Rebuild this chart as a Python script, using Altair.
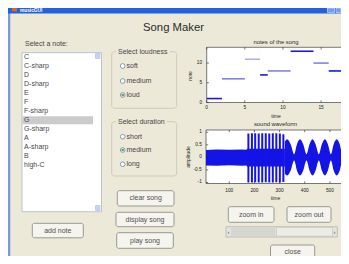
import altair as alt
import pandas as pd

# ---------------- chart values ----------------
note_names = ["C", "C-sharp", "D", "D-sharp", "E", "F", "F-sharp", "G",
              "G-sharp", "A", "A-sharp", "B", "high-C"]
selected_note = "G"
loudness_options = ["soft", "medium", "loud"]
selected_loudness = "loud"
duration_options = ["short", "medium", "long"]
selected_duration = "medium"
button_labels = ["add note", "clear song", "display song", "play song",
                 "zoom in", "zoom out", "close"]
window_title = "musicGUI"
app_title = "Song Maker"

# notes of the song
song_notes = [1, 6, 11, 7, 8, 13, 10, 8]
song_durations = [2, 3, 2, 1, 3, 3, 2, 2]
song_loudness = ["loud", "medium", "soft", "loud", "medium", "loud", "medium", "loud"]
notes_x_ticks = [0, 5, 10, 15]
notes_y_ticks = [0, 5, 10]
notes_x_lim = [0, 18.2]
notes_y_lim = [0, 14]

# sound waveform (envelopes)
wave_x_ticks = [100, 200, 300, 400, 500]
wave_y_ticks = [-1, -0.5, 0, 0.5, 1]
wave_x_lim = [7.5, 560]
wave_y_lim = [-1.04, 1.09]
band_time = [7.5, 50, 100, 150, 169, 169.5, 240, 321]
band_upper = [0.29, 0.31, 0.30, 0.31, 0.30, 0.34, 0.34, 0.34]
band_lower = [-0.32, -0.33, -0.31, -0.33, -0.32, -0.36, -0.36, -0.36]
burst_time = [176, 190, 203, 217, 231, 245, 259, 273, 287, 301, 315]
burst_upper = [0.95, 0.96, 0.96, 0.95, 0.96, 0.96, 0.95, 0.96, 0.96, 0.95, 0.92]
burst_lower = [-1.0, -1.0, -0.99, -1.0, -1.0, -0.99, -1.0, -1.0, -0.99, -1.0, -0.98]
beat_time = [321, 330, 344, 358, 369, 381, 394, 407, 419, 431, 443, 456,
             468, 480, 492, 504, 515, 527, 539, 550, 560]
beat_upper = [0.62, 0.72, 0.52, 0.12, 0.52, 0.72, 0.52, 0.12, 0.52, 0.72, 0.52, 0.12,
              0.52, 0.72, 0.52, 0.12, 0.52, 0.72, 0.52, 0.12, 0.45]
beat_lower = [-0.64, -0.72, -0.52, -0.12, -0.52, -0.72, -0.52, -0.12, -0.52, -0.72, -0.52, -0.12,
              -0.52, -0.72, -0.52, -0.12, -0.52, -0.72, -0.52, -0.12, -0.45]

# ---------------- layout (window pixel coordinates) ----------------
VIEW_W, VIEW_H = 333, 248
PX0, PY0 = 8, 8
FONT = "Liberation Sans"
BEIGE = "#ECE9D8"
TXT = "#474747"
AXC = "#222222"
BLUE = "#1414e6"

GX = alt.Scale(domain=[PX0, PX0 + VIEW_W], range=[0, VIEW_W], nice=False, zero=False)
GY = alt.Scale(domain=[PY0, PY0 + VIEW_H], range=[0, VIEW_H], nice=False, zero=False)


def rects(rows, **mk):
    df = pd.DataFrame(rows, columns=["x", "x2", "y", "y2"])
    return alt.Chart(df).mark_rect(**mk).encode(
        x=alt.X("x:Q", scale=GX, axis=None), x2="x2:Q",
        y=alt.Y("y:Q", scale=GY, axis=None), y2="y2:Q")


def texts(rows, **mk):
    df = pd.DataFrame(rows, columns=["x", "y", "label"])
    return alt.Chart(df).mark_text(baseline="middle", font=FONT, **mk).encode(
        x=alt.X("x:Q", scale=GX, axis=None),
        y=alt.Y("y:Q", scale=GY, axis=None), text="label:N")


def dots(rows, **mk):
    df = pd.DataFrame(rows, columns=["x", "y"])
    return alt.Chart(df).mark_circle(opacity=1, **mk).encode(
        x=alt.X("x:Q", scale=GX, axis=None), y=alt.Y("y:Q", scale=GY, axis=None))


button_boxes = [(32.3, 83.3, 223.3, 237.8), (117.3, 174, 190.7, 206), (116, 174, 212.3, 226.7),
                (116.7, 173.3, 232.7, 248.3), (228.3, 274, 206.7, 222.3), (287, 331, 206.7, 222.3),
                (270.5, 314.7, 245, 258.5)]
list_y0, list_dy = 57.3, 9.0
radio_x = 122.7
loud_y = [66, 81, 95]
dur_y = [136.7, 150, 164.3]
NB = dict(l=206.7, r=345.5, t=47.3, b=102.5)
WB = dict(l=206.0, r=345.0, t=130.0, b=183.5)

gui_back = alt.layer(
    rects([(8, 10.3, 8, 256)], fill="#7a9ade"),
    rects([(8, 341, 8, 13.6)], fill="#2461dc"),
    rects([(12, 17, 8, 11.5)], fill="#d8652e"),
    rects([(327.5, 334.5, 8, 12.6), (336, 341, 8, 12.6)], fill="#6f9ef0",
          stroke="#e4ecfb", strokeWidth=0.6),
    rects([(22, 101.5, 52.7, 211.7)], fill="white", stroke="#a9b8c8", strokeWidth=0.8),
    rects([(22.5, 93, list_y0 + note_names.index(selected_note) * list_dy - 4,
            list_y0 + note_names.index(selected_note) * list_dy + 4)], fill="#cbcbcb"),
    rects([(95.5, 100, 53.5, 58.5), (95.5, 100, 205.5, 210.5)], fill="#c6d3f5",
          stroke="#a0b4e6", strokeWidth=0.5),
    rects([(111.7, 176.7, 51.7, 108.3), (111.7, 176.7, 121.7, 176)], fillOpacity=0,
          stroke="#c9c7b8", strokeWidth=0.9, cornerRadius=3),
    rects([(116, 170, 48, 55.5), (116, 167, 118, 125.5)], fill=BEIGE),
    rects(button_boxes, fill="#f5f4ef", stroke="#8f8f8a", strokeWidth=0.9, cornerRadius=2),
    rects([(226, 337.3, 226.7, 237)], fill="#e4e3dc", stroke="#b0b0a8", strokeWidth=0.7),
    rects([(231, 275.5, 227.5, 236.2)], fill="#d6d6d0"),
    rects([(276.5, 332.5, 227.5, 236.2)], fill="#ecebe5", stroke="#c4c4bc", strokeWidth=0.6),
    dots([(radio_x, y) for y in loud_y + dur_y], size=22, fill="white",
         stroke="#6b87a3", strokeWidth=0.8),
    dots([(radio_x, loud_y[loudness_options.index(selected_loudness)]),
          (radio_x, dur_y[duration_options.index(selected_duration)])],
         size=7, color="#5aa05a"),
)


def tick_marks(xt, yt, xlim, ylim, box, SX, SY):
    xl = 2.2 * (xlim[1] - xlim[0]) / (box["r"] - box["l"])
    yl = 2.2 * (ylim[1] - ylim[0]) / (box["b"] - box["t"])
    rows = []
    for t in xt:
        rows.append((t, t, ylim[0], ylim[0] + yl))
        rows.append((t, t, ylim[1], ylim[1] - yl))
    for v in yt:
        rows.append((xlim[0], xlim[0] + xl, v, v))
        rows.append((xlim[1], xlim[1] - xl, v, v))
    return alt.Chart(pd.DataFrame(rows, columns=["x", "x2", "y", "y2"])).mark_rule(
        color=AXC, strokeWidth=0.6).encode(
        x=alt.X("x:Q", scale=SX, axis=None), x2="x2:Q",
        y=alt.Y("y:Q", scale=SY, axis=None), y2="y2:Q")


def frame(xlim, ylim, SX, SY):
    return alt.Chart(pd.DataFrame({"x": [xlim[0]], "x2": [xlim[1]],
                                   "y": [ylim[0]], "y2": [ylim[1]]})).mark_rect(
        fill="white", stroke=AXC, strokeWidth=0.6).encode(
        x=alt.X("x:Q", scale=SX, axis=None), x2="x2:Q",
        y=alt.Y("y:Q", scale=SY, axis=None), y2="y2:Q")


def tick_labels(xt, yt, box, SX, SY, xgap, ygap):
    xl = alt.Chart(pd.DataFrame({"v": xt, "lab": [str(v) for v in xt]})).mark_text(
        font=FONT, fontSize=4.8, color=AXC, align="center", baseline="middle").encode(
        x=alt.X("v:Q", scale=SX, axis=None), y=alt.value(box["b"] - PY0 + xgap), text="lab:N")
    yl = alt.Chart(pd.DataFrame({"v": yt, "lab": [str(v) for v in yt]})).mark_text(
        font=FONT, fontSize=4.8, color=AXC, align="right", baseline="middle").encode(
        y=alt.Y("v:Q", scale=SY, axis=None), x=alt.value(box["l"] - PX0 - ygap), text="lab:N")
    return xl, yl


# ---------------- notes of the song ----------------
NX = alt.Scale(domain=notes_x_lim, range=[NB["l"] - PX0, NB["r"] - PX0], nice=False, zero=False)
NY = alt.Scale(domain=notes_y_lim, range=[NB["b"] - PY0, NB["t"] - PY0], nice=False, zero=False)

starts, ends, acc = [], [], 0
for d in song_durations:
    starts.append(acc)
    acc += d
    ends.append(acc)
seg_df = pd.DataFrame({"start": starts, "end": ends, "note": song_notes, "loudness": song_loudness})
segs = alt.Chart(seg_df).mark_rule().encode(
    x=alt.X("start:Q", scale=NX, axis=None), x2="end:Q",
    y=alt.Y("note:Q", scale=NY, axis=None),
    strokeWidth=alt.StrokeWidth("loudness:N", scale=alt.Scale(domain=loudness_options,
                                                               range=[1.0, 1.6, 2.6]), legend=None),
    color=alt.Color("loudness:N", scale=alt.Scale(domain=loudness_options,
                                                   range=["#8a8ac8", "#6565e0", "#1a1ad8"]), legend=None))
nxl, nyl = tick_labels(notes_x_ticks, notes_y_ticks, NB, NX, NY, 5.8, 4.6)
notes_plot = alt.layer(frame(notes_x_lim, notes_y_lim, NX, NY), segs,
                       tick_marks(notes_x_ticks, notes_y_ticks, notes_x_lim, notes_y_lim, NB, NX, NY),
                       nxl, nyl)

# ---------------- sound waveform ----------------
WX = alt.Scale(domain=wave_x_lim, range=[WB["l"] - PX0, WB["r"] - PX0], nice=False, zero=False)
WY = alt.Scale(domain=wave_y_lim, range=[WB["b"] - PY0, WB["t"] - PY0], nice=False, zero=False)

band = alt.Chart(pd.DataFrame({"t": band_time, "hi": band_upper, "lo": band_lower})).mark_area(
    color=BLUE, interpolate="linear").encode(
    x=alt.X("t:Q", scale=WX, axis=None), y=alt.Y("hi:Q", scale=WY, axis=None), y2="lo:Q")
bursts = alt.Chart(pd.DataFrame({"t": burst_time, "hi": burst_upper, "lo": burst_lower})).mark_rule(
    color=BLUE, strokeWidth=2.0).encode(
    x=alt.X("t:Q", scale=WX, axis=None), y=alt.Y("hi:Q", scale=WY, axis=None), y2="lo:Q")
beats = alt.Chart(pd.DataFrame({"t": beat_time, "hi": beat_upper, "lo": beat_lower})).mark_area(
    color=BLUE, interpolate="monotone").encode(
    x=alt.X("t:Q", scale=WX, axis=None), y=alt.Y("hi:Q", scale=WY, axis=None), y2="lo:Q")
wxl, wyl = tick_labels(wave_x_ticks, wave_y_ticks, WB, WX, WY, 7.2, 4.2)
wave_plot = alt.layer(frame(wave_x_lim, wave_y_lim, WX, WY), band, bursts, beats,
                      tick_marks(wave_x_ticks, wave_y_ticks, wave_x_lim, wave_y_lim, WB, WX, WY),
                      wxl, wyl)

# ---------------- texts ----------------
btn_text_rows = [((b[0] + b[1]) / 2, (b[2] + b[3]) / 2, lab) for b, lab in zip(button_boxes, button_labels)]
gui_front = alt.layer(
    texts([(20, 10.9, window_title)], align="left", fontSize=4.8, fontWeight="bold", color="white"),
    texts([(173.5, 28, app_title)], align="center", fontSize=11.3, color="#2a2a2a"),
    texts([(25, 44, "Select a note:")], align="left", fontSize=7, color=TXT),
    texts([(24, list_y0 + i * list_dy, n) for i, n in enumerate(note_names)],
          align="left", fontSize=7, color=TXT),
    texts([(118, 51.7, "Select loudness"), (118, 121.7, "Select duration")],
          align="left", fontSize=7, color=TXT),
    texts([(126.5, y, o) for y, o in zip(loud_y, loudness_options)] +
          [(126.5, y, o) for y, o in zip(dur_y, duration_options)],
          align="left", fontSize=7, color=TXT),
    texts(btn_text_rows, align="center", fontSize=7, color="#505050"),
    texts([(228.6, 231.9, "\u2039"), (334.6, 231.9, "\u203a")], align="center", fontSize=6, color="#555555"),
    texts([(276, 41.6, "notes of the song"), (275.5, 124.4, "sound waveform")],
          align="center", fontSize=5.9, color="#2a2a2a"),
    texts([(276, 115.7, "time"), (275.5, 197.7, "time")], align="center", fontSize=5, color="#2a2a2a"),
    texts([(190, 76, "note"), (187.5, 157, "amplitude")], align="center", fontSize=5,
          color="#2a2a2a", angle=270),
)

chart = alt.layer(gui_back, notes_plot, wave_plot, gui_front).resolve_scale(
    x="independent", y="independent"
).properties(
    width=VIEW_W, height=VIEW_H, padding=0,
    autosize=alt.AutoSizeParams(type="none"), background=BEIGE
).configure_view(stroke=None).configure(font=FONT)

chart.save("out.html", embed_options={"renderer": "svg", "actions": False})
